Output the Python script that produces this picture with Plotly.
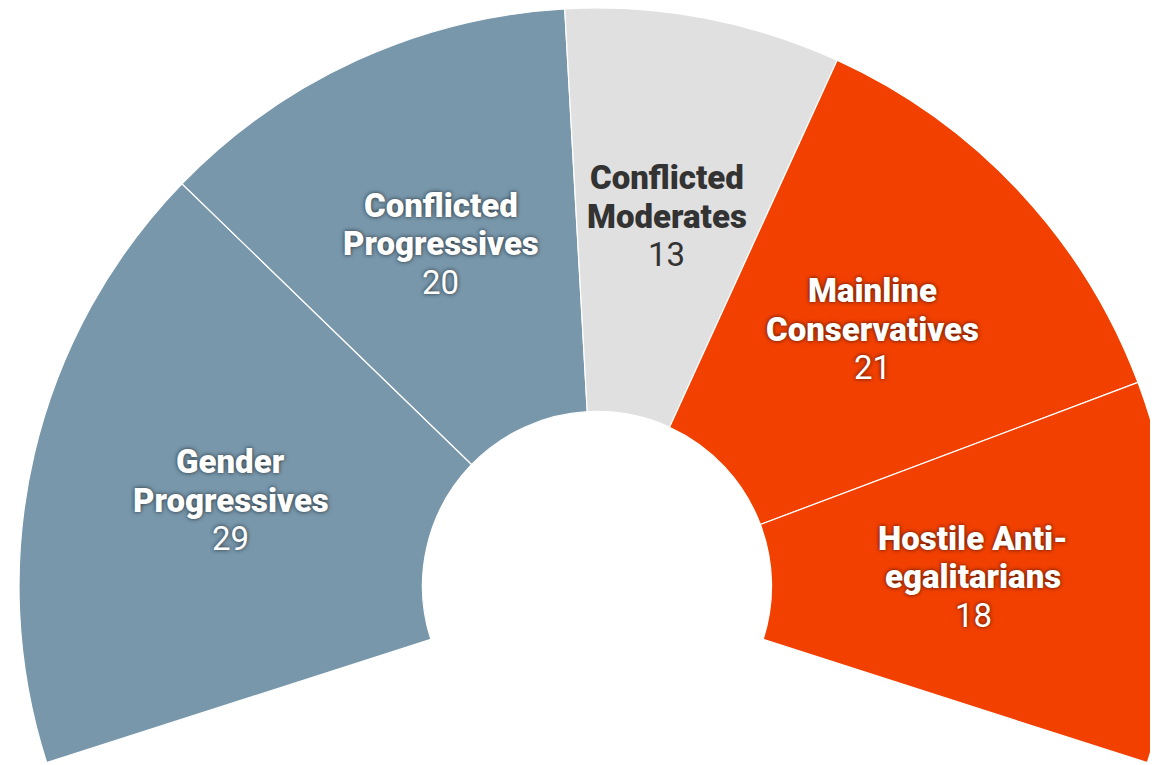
import math
import plotly.graph_objects as go

# ---- data ----
categories = ["Gender Progressives", "Conflicted Progressives", "Conflicted Moderates",
              "Mainline Conservatives", "Hostile Anti-egalitarians"]
label_lines = [["Gender", "Progressives"], ["Conflicted", "Progressives"], ["Conflicted", "Moderates"],
               ["Mainline", "Conservatives"], ["Hostile Anti-", "egalitarians"]]
values = [29, 20, 13, 21, 18]

# ---- style ----
slice_colors = ["#7897AB", "#7897AB", "#E0E0E0", "#F24000", "#F24000"]
text_colors = ["#FFFFFF", "#FFFFFF", "#333333", "#FFFFFF", "#FFFFFF"]
dark_shadow = "0px 0px 4px rgba(0,0,0,0.7)"
text_shadows = [dark_shadow, dark_shadow, "none", dark_shadow, dark_shadow]
FONT = "Roboto"
FONT_SIZE = 33
NAME_WEIGHT = 900
LINE_STEP = 38.5          # px between text lines

SPAN = 215.6              # degrees of arc used by the visible slices
HOLE = 0.302
ROTATION = 360 - SPAN / 2
total = sum(values)
blank = total * (360 - SPAN) / SPAN  # invisible filler that closes the circle

fig = go.Figure(go.Pie(
    labels=categories + [""],
    values=values + [blank],
    sort=False,
    direction="clockwise",
    rotation=ROTATION,
    hole=HOLE,
    marker=dict(colors=slice_colors + ["rgba(0,0,0,0)"],
                line=dict(color=["#FFFFFF"] * len(values) + ["rgba(0,0,0,0)"], width=1.2)),
    textinfo="none",
    hoverinfo="skip",
    showlegend=False,
))

# labels at the middle of each ring segment (derived from the values)
r_mid = 0.5 * (1 + HOLE) / 2   # in paper units (square plot area, pie fills it)
cum = 0
annotations = []
for name_lines, v, col, sh in zip(label_lines, values, text_colors, text_shadows):
    mid = cum + v / 2
    cum += v
    theta = math.radians(ROTATION + mid / total * SPAN)   # clockwise from 12 o'clock
    ax = 0.5 + r_mid * math.sin(theta)
    ay = 0.5 + r_mid * math.cos(theta)
    lines = [(t, NAME_WEIGHT) for t in name_lines] + [(str(v), 400)]
    n = len(lines)
    for i, (t, w) in enumerate(lines):
        annotations.append(dict(
            x=ax, y=ay, xref="paper", yref="paper",
            text=t, showarrow=False,
            xanchor="center", yanchor="middle",
            yshift=((n - 1) / 2 - i) * LINE_STEP,
            font=dict(family=FONT, size=FONT_SIZE, color=col, weight=w, shadow=sh),
        ))

fig.update_layout(
    width=1167, height=1156,
    margin=dict(l=11, r=0, t=0, b=0),
    paper_bgcolor="#FFFFFF",
    plot_bgcolor="#FFFFFF",
    showlegend=False,
    annotations=annotations,
)

fig.write_html("out.html")
